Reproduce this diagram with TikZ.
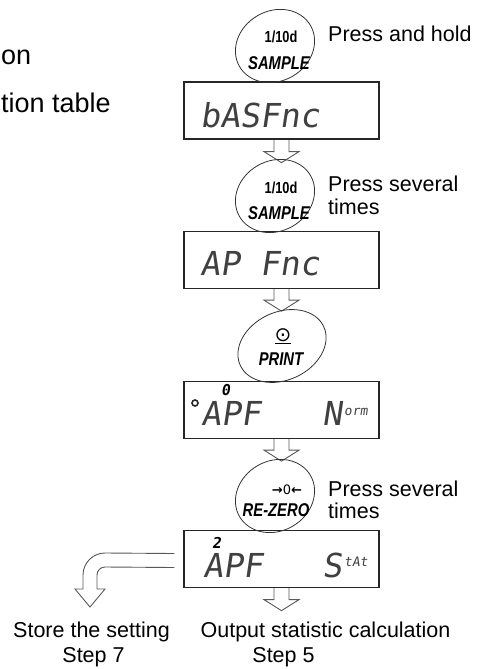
\documentclass[tikz,border=0pt]{standalone}
\usepackage{fontspec}
\setmainfont{Liberation Sans}
\newfontfamily\keyfont[FakeStretch=0.8]{Liberation Sans}
\newfontfamily\lcdfont[FakeSlant=0.15]{DejaVu Sans Mono}
\newfontfamily\dvsym{DejaVu Sans}
\usetikzlibrary{shapes.geometric,calc,backgrounds}
\begin{document}
\begin{tikzpicture}[x=1pt,y=-1pt,
  lcdbox/.style={draw=black!85,line width=1.3pt,minimum width=195pt,minimum height=57pt,inner sep=0pt},
  keybtn/.style={ellipse,draw=black!80,line width=0.8pt,minimum width=82pt,minimum height=70pt,inner sep=0pt,rotate=30},
  blk/.style={draw=black!65,line width=0.9pt,fill=white,line join=miter},
  lbl/.style={font=\fontsize{21.5}{24}\selectfont,inner sep=0pt},
  lefttxt/.style={font=\fontsize{27}{30}\selectfont,inner sep=0pt,anchor=base west},
  keytop/.style={font=\keyfont\bfseries\fontsize{16}{16}\selectfont,inner sep=0pt},
  keylab/.style={font=\keyfont\bfseries\itshape\fontsize{18.5}{18}\selectfont,inner sep=0pt},
  lcd/.style={font=\lcdfont\fontsize{33}{33}\selectfont,inner sep=0pt,anchor=base west,text=black!75},
  lcdsmall/.style={font=\lcdfont\fontsize{13}{13}\selectfont,inner sep=0pt,anchor=base west,text=black!75},
  lcdtop/.style={font=\lcdfont\bfseries\fontsize{15}{15}\selectfont,inner sep=0pt,anchor=base west},
]
\useasboundingbox (0,0) rectangle (490,669);

% left fragments
\node[lefttxt] (l1) at (1,64) {on};
\node[lefttxt] (l2) at (1,112) {tion table};

% display boxes
\node[lcdbox] (b1) at (281.5,110.5) {};
\node[lcdbox] (b2) at (281.5,260) {};
\node[lcdbox] (b3) at (281.5,410) {};
\node[lcdbox] (b4) at (281.5,559) {};

% keys
\node[keybtn] (e1) at (275,46) {};
\node[keybtn] (e2) at (275,196) {};
\node[keybtn,minimum width=92pt,minimum height=68pt,rotate=-5] (e3) at (282,346) {};
\node[keybtn] (e4) at (275,496) {};

\node[keytop] (k1a) at (281,37) {1/10d};
\node[keylab] (k1b) at (279,63) {SAMPLE};
\node[keytop] (k2a) at (281,188) {1/10d};
\node[keylab] (k2b) at (279,213) {SAMPLE};
\node[font=\dvsym\fontsize{20}{20}\selectfont,inner sep=0pt] (k3a) at (283,336) {\underline{⊙}};
\node[keylab] (k3b) at (281,359) {PRINT};
\node[font=\dvsym\fontsize{13}{13}\selectfont,inner sep=0pt] (k4a) at (287,490) {\textbf{→}0\textbf{←}};
\node[keylab] (k4b) at (276,510) {RE-ZERO};

% labels beside keys
\node[lbl,anchor=base west] (p1) at (328,42) {Press and hold};
\node[lbl,anchor=base west] (p2) at (328,191) {Press several};
\node[lbl,anchor=base west] (p2b) at (328,214) {times};
\node[lbl,anchor=base west] (p4) at (328,496) {Press several};
\node[lbl,anchor=base west] (p4b) at (328,518) {times};

% display texts
\node[lcd] (d1) at (200,127) {bASFnc};
\node[lcd] (d2) at (200,275) {AP Fnc};
\node[lcd] (d3) at (201,425) {APF};
\node[lcdtop] (d3t) at (221,395) {0};
\node[draw=black!85,line width=1.6pt,circle,minimum size=6pt,inner sep=0pt] (d3c) at (195,403) {};
\node[lcd] (d3n) at (322,425) {N};
\node[lcdsmall] (d3m) at (344,415) {orm};
\node[lcd] (d4) at (203,577) {APF};
\node[lcdtop] (d4t) at (212,548) {2};
\node[lcd] (d4s) at (322,577) {S};
\node[lcdsmall] (d4m) at (344,566) {tAt};

% bottom labels
\node[lbl,anchor=base] (s7a) at (91.5,637) {Store the setting};
\node[lbl,anchor=base] (s7b) at (93.5,662) {Step 7};
\node[lbl,anchor=base] (s5a) at (325.5,637) {Output statistic calculation};
\node[lbl,anchor=base] (s5b) at (283.5,662) {Step 5};

% arrow tips
\coordinate (c2) at ($(b1.south)+(0,23)$);
\coordinate (c3) at ($(b2.south)+(0,22)$);
\coordinate (c4) at ($(b3.south)+(0,22)$);
\coordinate (c5) at ($(b4.south)+(0,22.5)$);
\coordinate (c7) at (90,607);
\coordinate (c7s) at ($(b4.west)+(-9,1.5)$);

\newcommand{\blockdown}[2]{%
  \draw[blk] ($(#1)+(-7.5,0)$) -- ($(#2)+(-7.5,-11)$) -- ($(#2)+(-17.5,-11)$) -- (#2)
    -- ($(#2)+(17.5,-11)$) -- ($(#2)+(7.5,-11)$) -- ($(#1)+(7.5,0)$);}

\begin{scope}[on background layer]
\blockdown{b1.south}{c2}
\blockdown{b2.south}{c3}
\blockdown{b3.south}{c4}
\blockdown{b4.south}{c5}
\draw[blk] ($(c7s)+(0,-7)$) -- ($(c7)+(15,-54)$)
  .. controls ($(c7)+(2.9,-54)$) and ($(c7)+(-7,-44.1)$) .. ($(c7)+(-7,-32)$)
  -- ($(c7)+(-7,-18)$) -- ($(c7)+(-15,-18)$) -- (c7) -- ($(c7)+(15,-18)$)
  -- ($(c7)+(7,-18)$) -- ($(c7)+(7,-32)$)
  .. controls ($(c7)+(7,-36.4)$) and ($(c7)+(10.6,-40)$) .. ($(c7)+(15,-40)$)
  -- ($(c7s)+(0,7)$);
\end{scope}
\end{tikzpicture}
\end{document}
